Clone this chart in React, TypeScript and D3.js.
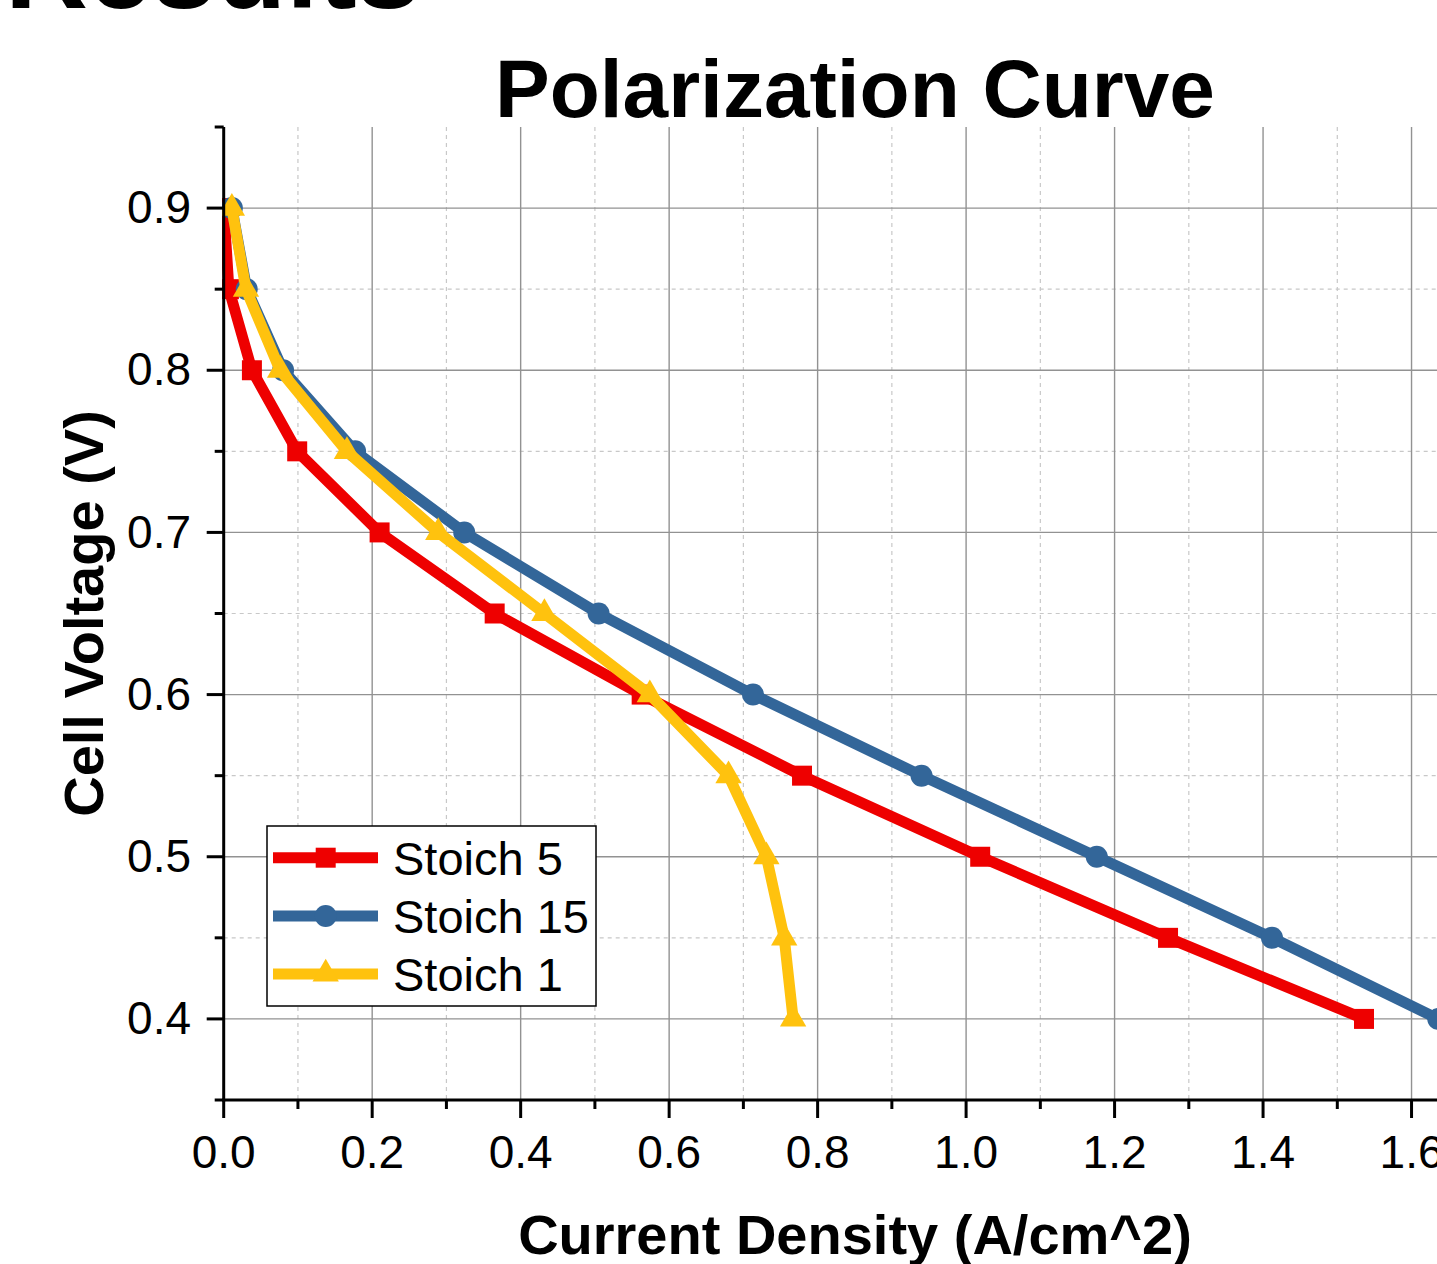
import React, { Component } from 'react';
import * as d3 from 'd3';

// cell voltage at each measured point (V)
const voltage = [0.9, 0.85, 0.8, 0.75, 0.7, 0.65, 0.6, 0.55, 0.5, 0.45, 0.4];
// current density for each series (A/cm^2)
const stoich5 = [0.0, 0.007, 0.038, 0.099, 0.21, 0.365, 0.563, 0.779, 1.019, 1.272, 1.536];
const stoich15 = [0.011, 0.031, 0.08, 0.177, 0.324, 0.505, 0.713, 0.94, 1.176, 1.412, 1.636];
const stoich1 = [0.011, 0.03, 0.076, 0.166, 0.289, 0.432, 0.574, 0.68, 0.731, 0.755, 0.767];

const seriesNames = ['Stoich 5', 'Stoich 15', 'Stoich 1'];

const xMajorTicks = [0, 0.2, 0.4, 0.6, 0.8, 1.0, 1.2, 1.4, 1.6];
const xMinorTicks = [0.1, 0.3, 0.5, 0.7, 0.9, 1.1, 1.3, 1.5, 1.7];
const yMajorTicks = [0.4, 0.5, 0.6, 0.7, 0.8, 0.9];
const yMinorTicks = [0.35, 0.45, 0.55, 0.65, 0.75, 0.85, 0.95];

const FONT = "'Liberation Sans', Arial, sans-serif";

interface Series {
    name: string,
    xs: number[],
    colour: string,
    symbol: d3.SymbolType,
    size: number
}

export default class App extends Component {
    private canvas: any;
    private width: number;
    private height: number;

    constructor(props: any) {
        super(props);
        this.canvas = React.createRef();
        this.width = 1437;
        this.height = 1264;
    }

    componentDidMount() {
        this.buildChart();
    }

    buildChart = () => {
        const left = 223.7, top = 127, bottom = 1100;
        const xScale = d3.scaleLinear().domain([0, 1.7]).range([left, left + 1.7 * 742.4]);
        const yScale = d3.scaleLinear().domain([0.35, 0.95]).range([bottom, top]);
        const right = xScale(1.7);

        const series: Series[] = [
            { name: seriesNames[0], xs: stoich5, colour: '#ee0000', symbol: d3.symbolSquare, size: 400 },
            { name: seriesNames[1], xs: stoich15, colour: '#336699', symbol: d3.symbolCircle, size: 380 },
            { name: seriesNames[2], xs: stoich1, colour: '#ffc20e', symbol: d3.symbolTriangle, size: 300 }
        ];

        d3.select(this.canvas.current).selectAll('*').remove();
        const svg = d3.select(this.canvas.current)
            .append('svg')
            .attr('width', this.width)
            .attr('height', this.height)
            .style('position', 'absolute')
            .style('left', 0)
            .style('top', 0)
            .style('background', '#fff');

        svg.append('defs').append('clipPath')
            .attr('id', 'plotClip')
            .append('rect')
            .attr('x', 222)
            .attr('y', 0)
            .attr('width', right - 222)
            .attr('height', bottom);

        // page heading, cut off at the top
        svg.append('text')
            .attr('x', 5)
            .attr('y', 8)
            .attr('font-family', FONT)
            .attr('font-weight', 'bold')
            .attr('font-size', 115)
            .text('Results');

        svg.append('text')
            .attr('x', 855)
            .attr('y', 117)
            .attr('text-anchor', 'middle')
            .attr('font-family', FONT)
            .attr('font-weight', 'bold')
            .attr('font-size', 82)
            .text('Polarization Curve');

        // grid (no minor line along the top edge)
        const grid = svg.append('g');
        grid.selectAll('.xMinor').data(xMinorTicks).enter().append('line')
            .attr('x1', (d: number) => xScale(d)).attr('x2', (d: number) => xScale(d))
            .attr('y1', top).attr('y2', bottom)
            .attr('stroke', '#c8c8c8').attr('stroke-width', 1.2).attr('stroke-dasharray', '4,4');
        grid.selectAll('.yMinor').data(yMinorTicks.slice(1, -1)).enter().append('line')
            .attr('x1', left).attr('x2', right)
            .attr('y1', (d: number) => yScale(d)).attr('y2', (d: number) => yScale(d))
            .attr('stroke', '#c8c8c8').attr('stroke-width', 1.2).attr('stroke-dasharray', '4,4');
        grid.selectAll('.xMajor').data(xMajorTicks.slice(1)).enter().append('line')
            .attr('x1', (d: number) => xScale(d)).attr('x2', (d: number) => xScale(d))
            .attr('y1', top).attr('y2', bottom)
            .attr('stroke', '#929292').attr('stroke-width', 1.4);
        grid.selectAll('.yMajor').data(yMajorTicks).enter().append('line')
            .attr('x1', left).attr('x2', right)
            .attr('y1', (d: number) => yScale(d)).attr('y2', (d: number) => yScale(d))
            .attr('stroke', '#929292').attr('stroke-width', 1.4);

        // series
        const plot = svg.append('g').attr('clip-path', 'url(#plotClip)');
        const line = d3.line<number>()
            .x((d: number) => xScale(d))
            .y((d: number, i: number) => yScale(voltage[i]));

        series.forEach((s: Series) => {
            plot.append('path')
                .attr('d', line(s.xs))
                .attr('fill', 'none')
                .attr('stroke', s.colour)
                .attr('stroke-width', 11)
                .attr('stroke-linejoin', 'miter');
            plot.selectAll(null).data(s.xs).enter().append('path')
                .attr('d', d3.symbol().type(s.symbol).size(s.size)())
                .attr('transform', (d: number, i: number) =>
                    'translate(' + [xScale(d), yScale(voltage[i])] + ')')
                .attr('fill', s.colour);
        });

        // axes
        const axes = svg.append('g').attr('stroke', '#000').attr('stroke-width', 3);
        axes.append('line').attr('x1', left).attr('x2', left).attr('y1', top).attr('y2', bottom + 1.5);
        axes.append('line').attr('x1', left - 1.5).attr('x2', right).attr('y1', bottom).attr('y2', bottom);
        axes.selectAll('.yMajT').data(yMajorTicks).enter().append('line')
            .attr('x1', left - 17).attr('x2', left)
            .attr('y1', (d: number) => yScale(d)).attr('y2', (d: number) => yScale(d));
        axes.selectAll('.yMinT').data(yMinorTicks).enter().append('line')
            .attr('x1', left - 9).attr('x2', left)
            .attr('y1', (d: number) => yScale(d)).attr('y2', (d: number) => yScale(d));
        axes.selectAll('.xMajT').data(xMajorTicks).enter().append('line')
            .attr('x1', (d: number) => xScale(d)).attr('x2', (d: number) => xScale(d))
            .attr('y1', bottom).attr('y2', bottom + 18);
        axes.selectAll('.xMinT').data(xMinorTicks).enter().append('line')
            .attr('x1', (d: number) => xScale(d)).attr('x2', (d: number) => xScale(d))
            .attr('y1', bottom).attr('y2', bottom + 9);

        svg.selectAll('.yLab').data(yMajorTicks).enter().append('text')
            .attr('x', 191)
            .attr('y', (d: number) => yScale(d))
            .attr('dy', '0.33em')
            .attr('text-anchor', 'end')
            .attr('font-family', FONT)
            .attr('font-size', 46)
            .text((d: number) => d3.format('.1f')(d));

        svg.selectAll('.xLab').data(xMajorTicks).enter().append('text')
            .attr('x', (d: number) => xScale(d))
            .attr('y', 1168)
            .attr('text-anchor', 'middle')
            .attr('font-family', FONT)
            .attr('font-size', 46)
            .text((d: number) => d3.format('.1f')(d));

        svg.append('text')
            .attr('transform', 'translate(103,613.5) rotate(-90)')
            .attr('text-anchor', 'middle')
            .attr('font-family', FONT)
            .attr('font-weight', 'bold')
            .attr('font-size', 56)
            .text('Cell Voltage (V)');

        svg.append('text')
            .attr('x', 855)
            .attr('y', 1254)
            .attr('text-anchor', 'middle')
            .attr('font-family', FONT)
            .attr('font-weight', 'bold')
            .attr('font-size', 56)
            .text('Current Density (A/cm^2)');

        // legend
        const legend = svg.append('g');
        legend.append('rect')
            .attr('x', 267).attr('y', 826)
            .attr('width', 329).attr('height', 180)
            .attr('fill', '#fff').attr('stroke', '#000').attr('stroke-width', 1.5);
        const rowY = [857.7, 916, 974];
        series.forEach((s: Series, i: number) => {
            legend.append('line')
                .attr('x1', 273).attr('x2', 378)
                .attr('y1', rowY[i]).attr('y2', rowY[i])
                .attr('stroke', s.colour).attr('stroke-width', 11);
            legend.append('path')
                .attr('d', d3.symbol().type(s.symbol).size(s.size)())
                .attr('transform', 'translate(' + [325.7, rowY[i]] + ')')
                .attr('fill', s.colour);
            legend.append('text')
                .attr('x', 393).attr('y', rowY[i] + 17)
                .attr('font-family', FONT)
                .attr('font-size', 47)
                .text(s.name);
        });
    }

    render() {
        return (
            <div ref={this.canvas}></div>
        )
    }
}
